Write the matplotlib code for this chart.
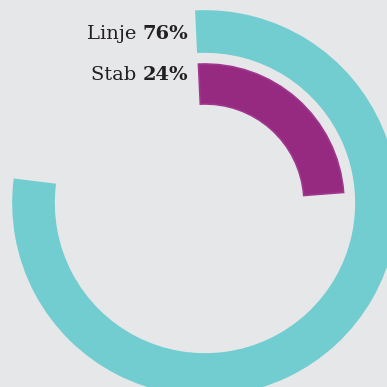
import matplotlib.pyplot as plt
from matplotlib.patches import Wedge

# data
kategorier = ['Linje', 'Stab']
andeler = [76, 24]
etiketter = ['76%', '24%']

# stil
farger = ['#72cdd0', '#962a80']
kanter = ['#72cdd0', '#a0378f']
bakgrunn = '#e6e7e9'
skala = 97.8        # verdi som tilsvarer hel sirkel
start = 92.7        # startvinkel i grader
senter = (205, 184)
ringer = [(192, 41), (139, 40)]  # ytre radius, bredde

fig = plt.figure(figsize=(3.87, 3.87), dpi=100, facecolor=bakgrunn)
ax = fig.add_axes([0, 0, 1, 1])
ax.set_xlim(0, 387)
ax.set_ylim(0, 387)
ax.set_aspect('equal')
ax.axis('off')

# ringene
for verdi, farge, kant, (r, w) in zip(andeler, farger, kanter, ringer):
    slutt = start - verdi / skala * 360
    ax.add_patch(Wedge(senter, r, slutt, start, width=w,
                       facecolor=farge, edgecolor=kant, linewidth=1.2))

# etiketter
y_pos = [348, 307]
for navn, tekst, y in zip(kategorier, etiketter, y_pos):
    fet = ax.text(188, y, tekst, ha='right', va='baseline', fontsize=14,
                  fontweight='bold', family='DejaVu Serif', color='#231f20')
    ax.annotate(navn + ' ', xy=(0, 0), xycoords=fet, ha='right', va='bottom',
                fontsize=14, family='DejaVu Serif', color='#231f20')

fig.savefig('out.png', dpi=100, facecolor=bakgrunn)
